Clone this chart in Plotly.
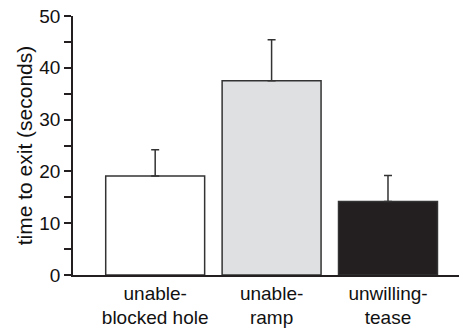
import plotly.graph_objects as go

# Mean time to exit per condition, with one-sided (upper) error bars
categories = ["unable-<br>blocked hole", "unable-<br>ramp", "unwilling-<br>tease"]
mean_time = [19.1, 37.5, 14.2]
err_upper = [5.1, 7.9, 5.0]
bar_colors = ["#ffffff", "#dfe0e2", "#231f20"]

y_tickvals = list(range(0, 51, 5))
y_ticktext = [str(v) if v % 10 == 0 else "" for v in y_tickvals]

ink = "#231f20"
font_family = "Liberation Sans, Arial, Helvetica, sans-serif"

fig = go.Figure(
    go.Bar(
        x=categories,
        y=mean_time,
        width=0.85,
        marker=dict(color=bar_colors, line=dict(color="#333333", width=1.5)),
        error_y=dict(
            type="data",
            symmetric=False,
            array=err_upper,
            arrayminus=[0] * len(err_upper),
            color="#333333",
            thickness=1.5,
            width=4,
        ),
    )
)

fig.update_layout(
    width=459,
    height=331,
    margin=dict(l=73, r=0, t=16, b=56),
    paper_bgcolor="white",
    plot_bgcolor="white",
    showlegend=False,
    font=dict(family=font_family, color="black"),
)

fig.update_xaxes(
    range=[-0.706, 2.61],
    automargin=False,
    showline=True,
    linecolor=ink,
    linewidth=1.5,
    showgrid=False,
    zeroline=False,
    ticks="",
    tickfont=dict(size=19, family=font_family, color="#111111"),
)

fig.update_yaxes(
    range=[0, 50],
    automargin=False,
    tickvals=y_tickvals,
    ticktext=y_ticktext,
    ticks="outside",
    ticklen=7,
    tickwidth=1.5,
    tickcolor=ink,
    showline=True,
    linecolor=ink,
    linewidth=1.5,
    showgrid=False,
    zeroline=False,
    tickfont=dict(size=19, family=font_family, color="#111111"),
    title=dict(text="time to exit (seconds)", font=dict(size=21, family=font_family, color="#111111"), standoff=1),
)

fig.write_html("out.html")
